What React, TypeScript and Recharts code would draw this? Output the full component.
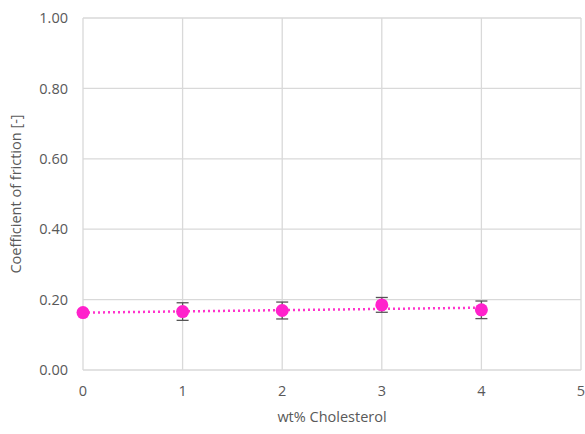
import {
  ComposedChart,
  Scatter,
  Line,
  XAxis,
  YAxis,
  CartesianGrid,
  ErrorBar,
  Label,
} from "recharts";

const cholesterol = [0, 1, 2, 3, 4];
const friction = [0.163, 0.166, 0.169, 0.185, 0.171];
const frictionErr = [0.004, 0.025, 0.024, 0.021, 0.025];
const trendX = [0, 4];
const trendY = [0.163, 0.177];
const xTicks = [0, 1, 2, 3, 4, 5];
const yTicks = [0, 0.2, 0.4, 0.6, 0.8, 1.0];

const points = cholesterol.map((x, i) => ({ x, y: friction[i], err: frictionErr[i] }));
const trend = trendX.map((x, i) => ({ x, y: trendY[i] }));

const tickStyle = { fill: "#595959", fontSize: 14.5, fontFamily: "Open Sans" };

export default function App() {
  return (
    <div style={{ position: "absolute", left: 0, top: 0, background: "#fff" }}>
      <ComposedChart
        width={585}
        height={434}
        margin={{ top: 18, right: 4, bottom: 0, left: 0 }}
      >
        <CartesianGrid stroke="#d9d9d9" strokeWidth={1.3} />
        <XAxis
          dataKey="x"
          type="number"
          domain={[0, 5]}
          ticks={xTicks}
          height={64}
          tick={tickStyle}
          tickLine={false}
          axisLine={false}
          tickSize={0}
          tickMargin={16}
        >
          <Label
            value="wt% Cholesterol"
            position="insideBottom"
            offset={12}
            style={{ fill: "#595959", fontSize: 14.5, fontFamily: "Open Sans" }}
          />
        </XAxis>
        <YAxis
          type="number"
          domain={[0, 1]}
          ticks={yTicks}
          width={83}
          tick={tickStyle}
          tickFormatter={(v: number) => v.toFixed(2)}
          tickLine={false}
          axisLine={false}
          tickSize={0}
          tickMargin={15}
        >
          <Label
            value="Coefficient of friction [-]"
            angle={-90}
            position="insideLeft"
            offset={16}
            style={{ fill: "#595959", fontSize: 14.5, fontFamily: "Open Sans", textAnchor: "middle" }}
          />
        </YAxis>
        <Line
          data={trend}
          dataKey="y"
          stroke="#ff33cc"
          strokeWidth={2.5}
          strokeDasharray="2 3"
          dot={false}
          activeDot={false}
          isAnimationActive={false}
        />
        <Scatter
          data={points}
          dataKey="y"
          fill="#ff22cc"
          shape={(p: any) => <circle cx={p.cx} cy={p.cy} r={6.5} fill="#ff22cc" />}
          isAnimationActive={false}
        >
          <ErrorBar dataKey="err" direction="y" width={6} stroke="#555" strokeWidth={1.3} />
        </Scatter>
      </ComposedChart>
    </div>
  );
}
